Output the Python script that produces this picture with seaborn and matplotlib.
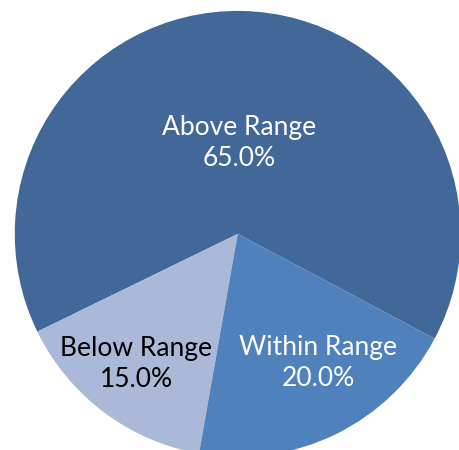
import numpy as np
import matplotlib
matplotlib.use("Agg")
import matplotlib.pyplot as plt
import seaborn as sns

# ==================== data ====================
labels = ["Above Range", "Below Range", "Within Range"]
shares = [65.0, 15.0, 20.0]
colors = ["#416899", "#AAB9D7", "#4F81BD"]
text_colors = ["white", "black", "white"]
label_dist = [0.41, 0.74, 0.68]
label_turn = [0, -1, 6]   # small angle nudges, degrees

sns.set_theme(style="white")
plt.rcParams['font.family'] = ['Lato', 'DejaVu Sans']

fig = plt.figure(figsize=(4.59, 4.50), dpi=100)
ax = fig.add_axes([0, 0, 1, 1])

start = -28
wedges, _ = ax.pie(shares, colors=colors, startangle=start, counterclock=True,
                   wedgeprops=dict(linewidth=0, antialiased=True))

# labels at each wedge's mid angle
for w, lab, val, tc, d, t in zip(wedges, labels, shares, text_colors, label_dist, label_turn):
    mid = np.deg2rad((w.theta1 + w.theta2) / 2 + t)
    ax.text(d * np.cos(mid), d * np.sin(mid), f"{lab}\n{val:.1f}%",
            ha="center", va="center", color=tc, fontsize=19, linespacing=1.3)

ax.set_xlim(-1.066, 0.992)
ax.set_ylim(-0.969, 1.049)
ax.axis("off")

fig.savefig("out.png", dpi=100)
